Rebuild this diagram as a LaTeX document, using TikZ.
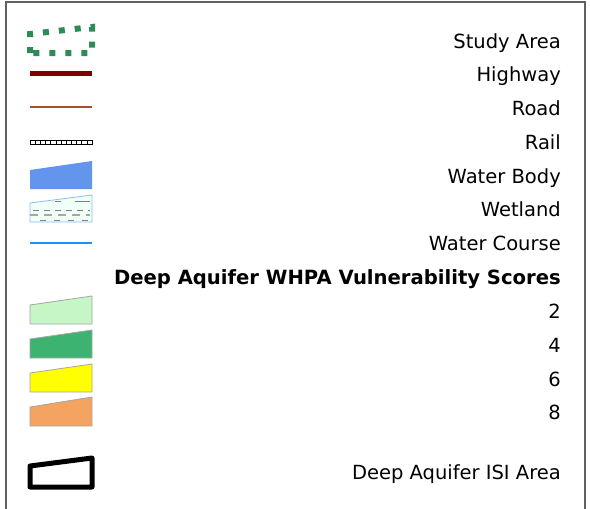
\documentclass[tikz,border=0pt]{standalone}
\usepackage{fontspec}
\setmainfont{DejaVu Sans}
\begin{document}
\begin{tikzpicture}[x=1pt,y=-1pt,
  lbl/.style={anchor=base east,inner sep=0pt,font=\fontsize{19.5}{22}\selectfont},
  hdr/.style={anchor=base east,inner sep=0pt,font=\fontsize{19.6}{22}\selectfont\bfseries},
  patch/.style={draw=gray!70,line width=0.8pt}]
\definecolor{studyg}{RGB}{46,139,87}
\definecolor{hwy}{RGB}{128,0,0}
\definecolor{road}{RGB}{160,82,45}
\definecolor{wbody}{RGB}{100,149,237}
\definecolor{wcourse}{RGB}{30,144,255}
\definecolor{wetfill}{RGB}{240,255,248}
\definecolor{wetedge}{RGB}{140,190,240}
\definecolor{s2}{RGB}{198,246,198}
\definecolor{s4}{RGB}{60,179,113}
\definecolor{s6}{RGB}{255,255,0}
\definecolor{s8}{RGB}{244,164,96}
\useasboundingbox (0,0) rectangle (590,509);
\fill[white] (0,0) rectangle (590,509);
\draw[gray!75!black,line width=1.3pt] (6,509) -- (6,2) -- (585,2) -- (585,509);
% study area
\draw[studyg,line width=6pt,dash pattern=on 6pt off 10pt] (30,53) -- (30,34) -- (92,27) -- (92,53) -- cycle;
% highway
\draw[hwy,line width=5pt] (30,73) -- (92,73);
% road
\draw[road,line width=2.5pt] (30,107) -- (92,107);
% rail
\draw[black,line width=0.7pt] (30,140) rectangle (92,144);
\foreach \i in {0,...,11} {\draw[black,line width=0.6pt] ({30+\i*62/12},140) -- ({30+\i*62/12},144);}
% water body
\fill[wbody] (30,189) -- (30,170) -- (92,161) -- (92,189) -- cycle;
% wetland
\draw[wetedge,fill=wetfill,line width=0.8pt] (30,222) -- (30,203) -- (92,195) -- (92,222) -- cycle;
\foreach \y/\xa/\xb in {201/55/61,201/75/90} {\draw[gray,line width=1pt] (\xa,\y) -- (\xb,\y);}
\draw[gray,line width=1pt,dash pattern=on 6pt off 5pt] (33,210) -- (90,210);
\draw[gray!70,line width=1.3pt,dash pattern=on 8pt off 6pt] (30,215) -- (90,215);
\draw[gray,line width=1pt,dash pattern=on 6pt off 8pt] (40,220) -- (90,220);
% water course
\draw[wcourse,line width=2.5pt] (30,243) -- (92,243);
% scores
\draw[patch,fill=s2] (30,324) -- (30,305) -- (92,296) -- (92,324) -- cycle;
\draw[patch,fill=s4] (30,358) -- (30,339) -- (92,330) -- (92,358) -- cycle;
\draw[patch,fill=s6] (30,392) -- (30,373) -- (92,364) -- (92,392) -- cycle;
\draw[patch,fill=s8] (30,426) -- (30,407) -- (92,397) -- (92,426) -- cycle;
% ISI
\draw[black,line width=5pt,line join=round] (30,487) -- (30,466) -- (92,458) -- (92,487) -- cycle;
% labels
\node[lbl] (t1) at (561,48) {Study Area};
\node[lbl] (t2) at (561,81) {Highway};
\node[lbl] (t3) at (561,115) {Road};
\node[lbl] (t4) at (561,149) {Rail};
\node[lbl] (t5) at (561,183) {Water Body};
\node[lbl] (t6) at (561,216) {Wetland};
\node[lbl] (t7) at (561,250) {Water Course};
\node[hdr] (h) at (561,284) {Deep Aquifer WHPA Vulnerability Scores};
\node[lbl] (n2) at (561,318) {2};
\node[lbl] (n4) at (561,352) {4};
\node[lbl] (n6) at (561,386) {6};
\node[lbl] (n8) at (561,419) {8};
\node[lbl] (isi) at (561,479) {Deep Aquifer ISI Area};
\end{tikzpicture}
\end{document}
